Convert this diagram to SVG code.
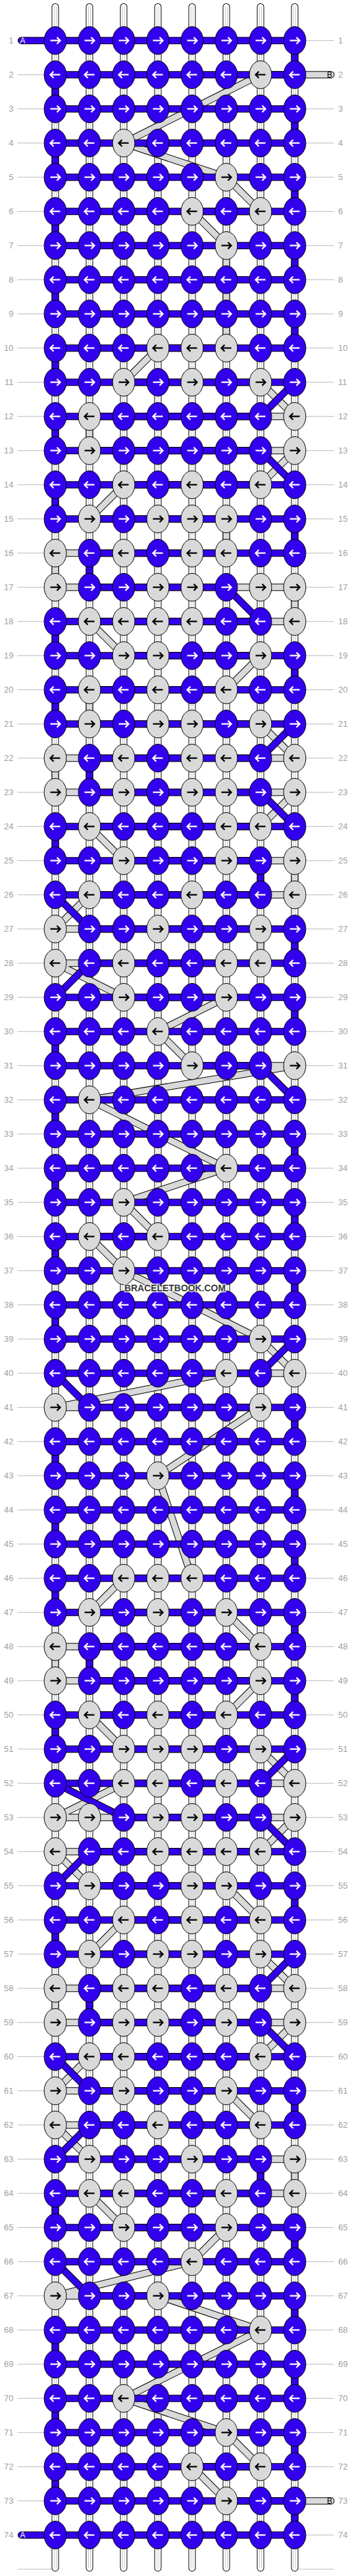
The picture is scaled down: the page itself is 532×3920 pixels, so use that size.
<svg xmlns="http://www.w3.org/2000/svg" width="532" height="3920" viewBox="0 0 532 3920">
<style>
.o{fill:none;stroke:#000;stroke-width:11;stroke-linejoin:round;stroke-linecap:round}
.w{fill:none;stroke:#fff;stroke-width:9;stroke-linecap:round}
.wc{fill:none;stroke:#c8c8c8;stroke-width:1}
.a{fill:none;stroke:#3300ee;stroke-width:9;stroke-linejoin:round;stroke-linecap:round}
.b{fill:none;stroke:#d9d9d9;stroke-width:9;stroke-linejoin:round;stroke-linecap:round}
.kb{fill:#3300ee;stroke:#000;stroke-width:1}
.kg{fill:#d9d9d9;stroke:#000;stroke-width:1}
.aw{fill:none;stroke:#fff;stroke-width:2.3}
.ak{fill:none;stroke:#000;stroke-width:2.3}
.lab{font-family:"Liberation Sans",Arial,sans-serif;font-size:13px;fill:#a0a0a0}
.ll{fill:none;stroke:#bbb;stroke-width:1}
.tl{font-family:"Liberation Sans",Arial,sans-serif;font-size:12px;text-anchor:middle}
.wm{font-family:"Liberation Sans",Arial,sans-serif;font-size:15px;font-weight:bold;fill:#3a3a3a;stroke:#fff;stroke-width:3;stroke-opacity:.8;paint-order:stroke;text-anchor:middle}
</style>
<defs>
<g id="bR"><ellipse rx="16.9" ry="21.2" class="kb"/><path class="aw" d="M-7.5 0H6.5M2.5-5L7.5 0 2.5 5"/></g>
<g id="bL"><ellipse rx="16.9" ry="21.2" class="kb"/><path class="aw" d="M7.5 0H-6.5M-2.5-5L-7.5 0-2.5 5"/></g>
<g id="gR"><ellipse rx="16.9" ry="21.2" class="kg"/><path class="ak" d="M-7.5 0H6.5M2.5-5L7.5 0 2.5 5"/></g>
<g id="gL"><ellipse rx="16.9" ry="21.2" class="kg"/><path class="ak" d="M7.5 0H-6.5M-2.5-5L-7.5 0-2.5 5"/></g>
</defs>
<rect width="532" height="3920" fill="#fff"/>
<g id="labellines" transform="translate(0 9.7)">
<path class="ll" d="M26.6 52h57m364 0h60m-481 52h57m364 0h60m-481 52h57m364 0h60m-481 52h57m364 0h60m-481 52h57m364 0h60m-481 52h57m364 0h60m-481 52h57m364 0h60m-481 52h57m364 0h60m-481 52h57m364 0h60m-481 52h57m364 0h60m-481 52h57m364 0h60m-481 52h57m364 0h60m-481 52h57m364 0h60m-481 52h57m364 0h60m-481 52h57m364 0h60m-481 52h57m364 0h60m-481 52h57m364 0h60m-481 52h57m364 0h60m-481 52h57m364 0h60m-481 52h57m364 0h60m-481 52h57m364 0h60m-481 52h57m364 0h60m-481 52h57m364 0h60m-481 52h57m364 0h60m-481 52h57m364 0h60m-481 52h57m364 0h60m-481 52h57m364 0h60m-481 52h57m364 0h60m-481 52h57m364 0h60m-481 52h57m364 0h60m-481 52h57m364 0h60m-481 52h57m364 0h60m-481 52h57m364 0h60m-481 52h57m364 0h60m-481 52h57m364 0h60m-481 52h57m364 0h60m-481 52h57m364 0h60m-481 52h57m364 0h60m-481 52h57m364 0h60m-481 52h57m364 0h60m-481 52h57m364 0h60m-481 52h57m364 0h60m-481 52h57m364 0h60m-481 52h57m364 0h60m-481 52h57m364 0h60m-481 52h57m364 0h60m-481 52h57m364 0h60m-481 52h57m364 0h60m-481 52h57m364 0h60m-481 52h57m364 0h60m-481 52h57m364 0h60m-481 52h57m364 0h60m-481 52h57m364 0h60m-481 52h57m364 0h60m-481 52h57m364 0h60m-481 52h57m364 0h60m-481 52h57m364 0h60m-481 52h57m364 0h60m-481 52h57m364 0h60m-481 52h57m364 0h60m-481 52h57m364 0h60m-481 52h57m364 0h60m-481 52h57m364 0h60m-481 52h57m364 0h60m-481 52h57m364 0h60m-481 52h57m364 0h60m-481 52h57m364 0h60m-481 52h57m364 0h60m-481 52h57m364 0h60m-481 52h57m364 0h60m-481 52h57m364 0h60m-481 52h57m364 0h60m-481 52h57m364 0h60m-481 52h57m364 0h60m-481 52h57m364 0h60"/>
</g>
<g id="labels" class="lab" transform="translate(0 14.2)">
<g id="labels-left" text-anchor="end">
<text x="20.5" y="52">1</text><text x="20.5" y="104">2</text><text x="20.5" y="156">3</text><text x="20.5" y="208">4</text><text x="20.5" y="260">5</text><text x="20.5" y="312">6</text><text x="20.5" y="364">7</text><text x="20.5" y="416">8</text><text x="20.5" y="468">9</text><text x="20.5" y="520">10</text><text x="20.5" y="572">11</text><text x="20.5" y="624">12</text><text x="20.5" y="676">13</text><text x="20.5" y="728">14</text><text x="20.5" y="780">15</text><text x="20.5" y="832">16</text><text x="20.5" y="884">17</text><text x="20.5" y="936">18</text><text x="20.5" y="988">19</text><text x="20.5" y="1040">20</text><text x="20.5" y="1092">21</text><text x="20.5" y="1144">22</text><text x="20.5" y="1196">23</text><text x="20.5" y="1248">24</text><text x="20.5" y="1300">25</text><text x="20.5" y="1352">26</text><text x="20.5" y="1404">27</text><text x="20.5" y="1456">28</text><text x="20.5" y="1508">29</text><text x="20.5" y="1560">30</text><text x="20.5" y="1612">31</text><text x="20.5" y="1664">32</text><text x="20.5" y="1716">33</text><text x="20.5" y="1768">34</text><text x="20.5" y="1820">35</text><text x="20.5" y="1872">36</text><text x="20.5" y="1924">37</text><text x="20.5" y="1976">38</text><text x="20.5" y="2028">39</text><text x="20.5" y="2080">40</text><text x="20.5" y="2132">41</text><text x="20.5" y="2184">42</text><text x="20.5" y="2236">43</text><text x="20.5" y="2288">44</text><text x="20.5" y="2340">45</text><text x="20.5" y="2392">46</text><text x="20.5" y="2444">47</text><text x="20.5" y="2496">48</text><text x="20.5" y="2548">49</text><text x="20.5" y="2600">50</text><text x="20.5" y="2652">51</text><text x="20.5" y="2704">52</text><text x="20.5" y="2756">53</text><text x="20.5" y="2808">54</text><text x="20.5" y="2860">55</text><text x="20.5" y="2912">56</text><text x="20.5" y="2964">57</text><text x="20.5" y="3016">58</text><text x="20.5" y="3068">59</text><text x="20.5" y="3120">60</text><text x="20.5" y="3172">61</text><text x="20.5" y="3224">62</text><text x="20.5" y="3276">63</text><text x="20.5" y="3328">64</text><text x="20.5" y="3380">65</text><text x="20.5" y="3432">66</text><text x="20.5" y="3484">67</text><text x="20.5" y="3536">68</text><text x="20.5" y="3588">69</text><text x="20.5" y="3640">70</text><text x="20.5" y="3692">71</text><text x="20.5" y="3744">72</text><text x="20.5" y="3796">73</text><text x="20.5" y="3848">74</text>
</g>
<g id="labels-right">
<text x="514" y="52">1</text><text x="514" y="104">2</text><text x="514" y="156">3</text><text x="514" y="208">4</text><text x="514" y="260">5</text><text x="514" y="312">6</text><text x="514" y="364">7</text><text x="514" y="416">8</text><text x="514" y="468">9</text><text x="514" y="520">10</text><text x="514" y="572">11</text><text x="514" y="624">12</text><text x="514" y="676">13</text><text x="514" y="728">14</text><text x="514" y="780">15</text><text x="514" y="832">16</text><text x="514" y="884">17</text><text x="514" y="936">18</text><text x="514" y="988">19</text><text x="514" y="1040">20</text><text x="514" y="1092">21</text><text x="514" y="1144">22</text><text x="514" y="1196">23</text><text x="514" y="1248">24</text><text x="514" y="1300">25</text><text x="514" y="1352">26</text><text x="514" y="1404">27</text><text x="514" y="1456">28</text><text x="514" y="1508">29</text><text x="514" y="1560">30</text><text x="514" y="1612">31</text><text x="514" y="1664">32</text><text x="514" y="1716">33</text><text x="514" y="1768">34</text><text x="514" y="1820">35</text><text x="514" y="1872">36</text><text x="514" y="1924">37</text><text x="514" y="1976">38</text><text x="514" y="2028">39</text><text x="514" y="2080">40</text><text x="514" y="2132">41</text><text x="514" y="2184">42</text><text x="514" y="2236">43</text><text x="514" y="2288">44</text><text x="514" y="2340">45</text><text x="514" y="2392">46</text><text x="514" y="2444">47</text><text x="514" y="2496">48</text><text x="514" y="2548">49</text><text x="514" y="2600">50</text><text x="514" y="2652">51</text><text x="514" y="2704">52</text><text x="514" y="2756">53</text><text x="514" y="2808">54</text><text x="514" y="2860">55</text><text x="514" y="2912">56</text><text x="514" y="2964">57</text><text x="514" y="3016">58</text><text x="514" y="3068">59</text><text x="514" y="3120">60</text><text x="514" y="3172">61</text><text x="514" y="3224">62</text><text x="514" y="3276">63</text><text x="514" y="3328">64</text><text x="514" y="3380">65</text><text x="514" y="3432">66</text><text x="514" y="3484">67</text><text x="514" y="3536">68</text><text x="514" y="3588">69</text><text x="514" y="3640">70</text><text x="514" y="3692">71</text><text x="514" y="3744">72</text><text x="514" y="3796">73</text><text x="514" y="3848">74</text>
</g>
</g>
<g transform="translate(32 9.7)">
<g id="strings">
<path class="o" d="M52 0.8V3898M104 0.8V3898M156 0.8V3898M208 0.8V3898M260 0.8V3898M312 0.8V3898M364 0.8V3898M416 0.8V3898"/>
<path class="w" d="M52 0.8V3898M104 0.8V3898M156 0.8V3898M208 0.8V3898M260 0.8V3898M312 0.8V3898M364 0.8V3898M416 0.8V3898"/>
<path class="wc" d="M50.5 0V3898M53.5 0V3898M102.5 0V3898M105.5 0V3898M154.5 0V3898M157.5 0V3898M206.5 0V3898M209.5 0V3898M258.5 0V3898M261.5 0V3898M310.5 0V3898M313.5 0V3898M362.5 0V3898M365.5 0V3898M414.5 0V3898M417.5 0V3898"/>
</g>
<g id="connectors">
<path id="stringB-o" class="o" d="M471 104H364L156 208L312 260L364 312H260L312 364L312 520H208L156 572H364L416 624H104V676H416L364 728H156L104 780H312V832H52V884H416V936H104L156 988H364L312 1040H104V1092H364L416 1144H52V1196H416L364 1248H104L156 1300H416V1352H104L52 1404H364V1456H52L156 1508H312L208 1560L260 1612H416L104 1664L312 1768L156 1820L208 1872H104L156 1924L364 2028L416 2080H312L52 2132H364L208 2236L260 2392H156L104 2444H312L364 2496H52V2548H364L312 2600H104L156 2652H364L416 2704H156L52 2756H416L364 2808H52L104 2860H312L364 2912H156L104 2964H364L416 3016H52V3068H416L364 3120H104L52 3172H312L364 3224H52L104 3276H416V3328H104L156 3380H312L260 3432L52 3484H208L364 3536L156 3640L312 3692L364 3744H260L312 3796H471"/>
<path id="stringB" class="b" d="M471 104H364L156 208L312 260L364 312H260L312 364L312 520H208L156 572H364L416 624H104V676H416L364 728H156L104 780H312V832H52V884H416V936H104L156 988H364L312 1040H104V1092H364L416 1144H52V1196H416L364 1248H104L156 1300H416V1352H104L52 1404H364V1456H52L156 1508H312L208 1560L260 1612H416L104 1664L312 1768L156 1820L208 1872H104L156 1924L364 2028L416 2080H312L52 2132H364L208 2236L260 2392H156L104 2444H312L364 2496H52V2548H364L312 2600H104L156 2652H364L416 2704H156L52 2756H416L364 2808H52L104 2860H312L364 2912H156L104 2964H364L416 3016H52V3068H416L364 3120H104L52 3172H312L364 3224H52L104 3276H416V3328H104L156 3380H312L260 3432L52 3484H208L364 3536L156 3640L312 3692L364 3744H260L312 3796H471"/>
<path id="stringA-o" class="o" d="M0.5 52H416V104H52V156H416V208H52V260H416V312H52V364H416V416H52V468H416V520H52V572H416L364 624H52V676H364L416 728H52V780H416V832H104V884H312L364 936H52V988H416V1040H52V1092H416L364 1144H104V1196H364L416 1248H52V1300H364V1352H52L104 1404H416V1456H104L52 1508H416V1560H52V1612H364L416 1664H52V1716H416V1768H52V1820H416V1872H52V1924H416V1976H52V2028H416L364 2080H52L104 2132H416V2184H52V2236H416V2288H52V2340H416V2392H52V2444H416V2496H104V2548H416V2600H52V2652H416L364 2704H52L156 2756H364L416 2808H104L52 2860H416V2912H52V2964H416L364 3016H104V3068H364L416 3120H52L104 3172H416V3224H104L52 3276H364V3328H52V3380H416V3432H52L104 3484H416V3536H52V3588H416V3640H52V3692H416V3744H52V3796H416V3848H0.5"/>
<path id="stringA" class="a" d="M0.5 52H416V104H52V156H416V208H52V260H416V312H52V364H416V416H52V468H416V520H52V572H416L364 624H52V676H364L416 728H52V780H416V832H104V884H312L364 936H52V988H416V1040H52V1092H416L364 1144H104V1196H364L416 1248H52V1300H364V1352H52L104 1404H416V1456H104L52 1508H416V1560H52V1612H364L416 1664H52V1716H416V1768H52V1820H416V1872H52V1924H416V1976H52V2028H416L364 2080H52L104 2132H416V2184H52V2236H416V2288H52V2340H416V2392H52V2444H416V2496H104V2548H416V2600H52V2652H416L364 2704H52L156 2756H364L416 2808H104L52 2860H416V2912H52V2964H416L364 3016H104V3068H364L416 3120H52L104 3172H416V3224H104L52 3276H364V3328H52V3380H416V3432H52L104 3484H416V3536H52V3588H416V3640H52V3692H416V3744H52V3796H416V3848H0.5"/>
</g>
<g id="tail-labels" class="tl">
<text x="2.5" y="56.3" fill="#fff">A</text>
<text x="2.5" y="3852.3" fill="#fff">A</text>
<text x="469" y="108.3" fill="#000">B</text>
<text x="469" y="3800.3" fill="#000">B</text>
</g>
<g id="knots">
<g id="row1" transform="translate(0 52)"><g id="k1-1"><use href="#bR" x="52"/></g><g id="k1-2"><use href="#bR" x="104"/></g><g id="k1-3"><use href="#bR" x="156"/></g><g id="k1-4"><use href="#bR" x="208"/></g><g id="k1-5"><use href="#bR" x="260"/></g><g id="k1-6"><use href="#bR" x="312"/></g><g id="k1-7"><use href="#bR" x="364"/></g><g id="k1-8"><use href="#bR" x="416"/></g></g>
<g id="row2" transform="translate(0 104)"><g id="k2-1"><use href="#bL" x="52"/></g><g id="k2-2"><use href="#bL" x="104"/></g><g id="k2-3"><use href="#bL" x="156"/></g><g id="k2-4"><use href="#bL" x="208"/></g><g id="k2-5"><use href="#bL" x="260"/></g><g id="k2-6"><use href="#bL" x="312"/></g><g id="k2-7"><use href="#gL" x="364"/></g><g id="k2-8"><use href="#bL" x="416"/></g></g>
<g id="row3" transform="translate(0 156)"><g id="k3-1"><use href="#bR" x="52"/></g><g id="k3-2"><use href="#bR" x="104"/></g><g id="k3-3"><use href="#bR" x="156"/></g><g id="k3-4"><use href="#bR" x="208"/></g><g id="k3-5"><use href="#bR" x="260"/></g><g id="k3-6"><use href="#bR" x="312"/></g><g id="k3-7"><use href="#bR" x="364"/></g><g id="k3-8"><use href="#bR" x="416"/></g></g>
<g id="row4" transform="translate(0 208)"><g id="k4-1"><use href="#bL" x="52"/></g><g id="k4-2"><use href="#bL" x="104"/></g><g id="k4-3"><use href="#gL" x="156"/></g><g id="k4-4"><use href="#bL" x="208"/></g><g id="k4-5"><use href="#bL" x="260"/></g><g id="k4-6"><use href="#bL" x="312"/></g><g id="k4-7"><use href="#bL" x="364"/></g><g id="k4-8"><use href="#bL" x="416"/></g></g>
<g id="row5" transform="translate(0 260)"><g id="k5-1"><use href="#bR" x="52"/></g><g id="k5-2"><use href="#bR" x="104"/></g><g id="k5-3"><use href="#bR" x="156"/></g><g id="k5-4"><use href="#bR" x="208"/></g><g id="k5-5"><use href="#bR" x="260"/></g><g id="k5-6"><use href="#gR" x="312"/></g><g id="k5-7"><use href="#bR" x="364"/></g><g id="k5-8"><use href="#bR" x="416"/></g></g>
<g id="row6" transform="translate(0 312)"><g id="k6-1"><use href="#bL" x="52"/></g><g id="k6-2"><use href="#bL" x="104"/></g><g id="k6-3"><use href="#bL" x="156"/></g><g id="k6-4"><use href="#bL" x="208"/></g><g id="k6-5"><use href="#gL" x="260"/></g><g id="k6-6"><use href="#bL" x="312"/></g><g id="k6-7"><use href="#gL" x="364"/></g><g id="k6-8"><use href="#bL" x="416"/></g></g>
<g id="row7" transform="translate(0 364)"><g id="k7-1"><use href="#bR" x="52"/></g><g id="k7-2"><use href="#bR" x="104"/></g><g id="k7-3"><use href="#bR" x="156"/></g><g id="k7-4"><use href="#bR" x="208"/></g><g id="k7-5"><use href="#bR" x="260"/></g><g id="k7-6"><use href="#gR" x="312"/></g><g id="k7-7"><use href="#bR" x="364"/></g><g id="k7-8"><use href="#bR" x="416"/></g></g>
<g id="row8" transform="translate(0 416)"><g id="k8-1"><use href="#bL" x="52"/></g><g id="k8-2"><use href="#bL" x="104"/></g><g id="k8-3"><use href="#bL" x="156"/></g><g id="k8-4"><use href="#bL" x="208"/></g><g id="k8-5"><use href="#bL" x="260"/></g><g id="k8-6"><use href="#bL" x="312"/></g><g id="k8-7"><use href="#bL" x="364"/></g><g id="k8-8"><use href="#bL" x="416"/></g></g>
<g id="row9" transform="translate(0 468)"><g id="k9-1"><use href="#bR" x="52"/></g><g id="k9-2"><use href="#bR" x="104"/></g><g id="k9-3"><use href="#bR" x="156"/></g><g id="k9-4"><use href="#bR" x="208"/></g><g id="k9-5"><use href="#bR" x="260"/></g><g id="k9-6"><use href="#bR" x="312"/></g><g id="k9-7"><use href="#bR" x="364"/></g><g id="k9-8"><use href="#bR" x="416"/></g></g>
<g id="row10" transform="translate(0 520)"><g id="k10-1"><use href="#bL" x="52"/></g><g id="k10-2"><use href="#bL" x="104"/></g><g id="k10-3"><use href="#bL" x="156"/></g><g id="k10-4"><use href="#gL" x="208"/></g><g id="k10-5"><use href="#gL" x="260"/></g><g id="k10-6"><use href="#gL" x="312"/></g><g id="k10-7"><use href="#bL" x="364"/></g><g id="k10-8"><use href="#bL" x="416"/></g></g>
<g id="row11" transform="translate(0 572)"><g id="k11-1"><use href="#bR" x="52"/></g><g id="k11-2"><use href="#bR" x="104"/></g><g id="k11-3"><use href="#gR" x="156"/></g><g id="k11-4"><use href="#bR" x="208"/></g><g id="k11-5"><use href="#gR" x="260"/></g><g id="k11-6"><use href="#bR" x="312"/></g><g id="k11-7"><use href="#gR" x="364"/></g><g id="k11-8"><use href="#bR" x="416"/></g></g>
<g id="row12" transform="translate(0 624)"><g id="k12-1"><use href="#bL" x="52"/></g><g id="k12-2"><use href="#gL" x="104"/></g><g id="k12-3"><use href="#bL" x="156"/></g><g id="k12-4"><use href="#bL" x="208"/></g><g id="k12-5"><use href="#bL" x="260"/></g><g id="k12-6"><use href="#bL" x="312"/></g><g id="k12-7"><use href="#bL" x="364"/></g><g id="k12-8"><use href="#gL" x="416"/></g></g>
<g id="row13" transform="translate(0 676)"><g id="k13-1"><use href="#bR" x="52"/></g><g id="k13-2"><use href="#gR" x="104"/></g><g id="k13-3"><use href="#bR" x="156"/></g><g id="k13-4"><use href="#bR" x="208"/></g><g id="k13-5"><use href="#bR" x="260"/></g><g id="k13-6"><use href="#bR" x="312"/></g><g id="k13-7"><use href="#bR" x="364"/></g><g id="k13-8"><use href="#gR" x="416"/></g></g>
<g id="row14" transform="translate(0 728)"><g id="k14-1"><use href="#bL" x="52"/></g><g id="k14-2"><use href="#bL" x="104"/></g><g id="k14-3"><use href="#gL" x="156"/></g><g id="k14-4"><use href="#bL" x="208"/></g><g id="k14-5"><use href="#gL" x="260"/></g><g id="k14-6"><use href="#bL" x="312"/></g><g id="k14-7"><use href="#gL" x="364"/></g><g id="k14-8"><use href="#bL" x="416"/></g></g>
<g id="row15" transform="translate(0 780)"><g id="k15-1"><use href="#bR" x="52"/></g><g id="k15-2"><use href="#gR" x="104"/></g><g id="k15-3"><use href="#bR" x="156"/></g><g id="k15-4"><use href="#gR" x="208"/></g><g id="k15-5"><use href="#gR" x="260"/></g><g id="k15-6"><use href="#gR" x="312"/></g><g id="k15-7"><use href="#bR" x="364"/></g><g id="k15-8"><use href="#bR" x="416"/></g></g>
<g id="row16" transform="translate(0 832)"><g id="k16-1"><use href="#gL" x="52"/></g><g id="k16-2"><use href="#bL" x="104"/></g><g id="k16-3"><use href="#gL" x="156"/></g><g id="k16-4"><use href="#bL" x="208"/></g><g id="k16-5"><use href="#gL" x="260"/></g><g id="k16-6"><use href="#gL" x="312"/></g><g id="k16-7"><use href="#bL" x="364"/></g><g id="k16-8"><use href="#bL" x="416"/></g></g>
<g id="row17" transform="translate(0 884)"><g id="k17-1"><use href="#gR" x="52"/></g><g id="k17-2"><use href="#bR" x="104"/></g><g id="k17-3"><use href="#bR" x="156"/></g><g id="k17-4"><use href="#gR" x="208"/></g><g id="k17-5"><use href="#gR" x="260"/></g><g id="k17-6"><use href="#bR" x="312"/></g><g id="k17-7"><use href="#gR" x="364"/></g><g id="k17-8"><use href="#gR" x="416"/></g></g>
<g id="row18" transform="translate(0 936)"><g id="k18-1"><use href="#bL" x="52"/></g><g id="k18-2"><use href="#gL" x="104"/></g><g id="k18-3"><use href="#gL" x="156"/></g><g id="k18-4"><use href="#gL" x="208"/></g><g id="k18-5"><use href="#gL" x="260"/></g><g id="k18-6"><use href="#bL" x="312"/></g><g id="k18-7"><use href="#bL" x="364"/></g><g id="k18-8"><use href="#gL" x="416"/></g></g>
<g id="row19" transform="translate(0 988)"><g id="k19-1"><use href="#bR" x="52"/></g><g id="k19-2"><use href="#bR" x="104"/></g><g id="k19-3"><use href="#gR" x="156"/></g><g id="k19-4"><use href="#gR" x="208"/></g><g id="k19-5"><use href="#bR" x="260"/></g><g id="k19-6"><use href="#bR" x="312"/></g><g id="k19-7"><use href="#gR" x="364"/></g><g id="k19-8"><use href="#bR" x="416"/></g></g>
<g id="row20" transform="translate(0 1040)"><g id="k20-1"><use href="#bL" x="52"/></g><g id="k20-2"><use href="#gL" x="104"/></g><g id="k20-3"><use href="#bL" x="156"/></g><g id="k20-4"><use href="#gL" x="208"/></g><g id="k20-5"><use href="#bL" x="260"/></g><g id="k20-6"><use href="#gL" x="312"/></g><g id="k20-7"><use href="#bL" x="364"/></g><g id="k20-8"><use href="#bL" x="416"/></g></g>
<g id="row21" transform="translate(0 1092)"><g id="k21-1"><use href="#bR" x="52"/></g><g id="k21-2"><use href="#gR" x="104"/></g><g id="k21-3"><use href="#bR" x="156"/></g><g id="k21-4"><use href="#gR" x="208"/></g><g id="k21-5"><use href="#gR" x="260"/></g><g id="k21-6"><use href="#bR" x="312"/></g><g id="k21-7"><use href="#gR" x="364"/></g><g id="k21-8"><use href="#bR" x="416"/></g></g>
<g id="row22" transform="translate(0 1144)"><g id="k22-1"><use href="#gL" x="52"/></g><g id="k22-2"><use href="#bL" x="104"/></g><g id="k22-3"><use href="#gL" x="156"/></g><g id="k22-4"><use href="#bL" x="208"/></g><g id="k22-5"><use href="#gL" x="260"/></g><g id="k22-6"><use href="#gL" x="312"/></g><g id="k22-7"><use href="#bL" x="364"/></g><g id="k22-8"><use href="#gL" x="416"/></g></g>
<g id="row23" transform="translate(0 1196)"><g id="k23-1"><use href="#gR" x="52"/></g><g id="k23-2"><use href="#bR" x="104"/></g><g id="k23-3"><use href="#gR" x="156"/></g><g id="k23-4"><use href="#bR" x="208"/></g><g id="k23-5"><use href="#gR" x="260"/></g><g id="k23-6"><use href="#gR" x="312"/></g><g id="k23-7"><use href="#bR" x="364"/></g><g id="k23-8"><use href="#gR" x="416"/></g></g>
<g id="row24" transform="translate(0 1248)"><g id="k24-1"><use href="#bL" x="52"/></g><g id="k24-2"><use href="#gL" x="104"/></g><g id="k24-3"><use href="#bL" x="156"/></g><g id="k24-4"><use href="#bL" x="208"/></g><g id="k24-5"><use href="#bL" x="260"/></g><g id="k24-6"><use href="#gL" x="312"/></g><g id="k24-7"><use href="#gL" x="364"/></g><g id="k24-8"><use href="#bL" x="416"/></g></g>
<g id="row25" transform="translate(0 1300)"><g id="k25-1"><use href="#bR" x="52"/></g><g id="k25-2"><use href="#bR" x="104"/></g><g id="k25-3"><use href="#gR" x="156"/></g><g id="k25-4"><use href="#bR" x="208"/></g><g id="k25-5"><use href="#bR" x="260"/></g><g id="k25-6"><use href="#gR" x="312"/></g><g id="k25-7"><use href="#bR" x="364"/></g><g id="k25-8"><use href="#gR" x="416"/></g></g>
<g id="row26" transform="translate(0 1352)"><g id="k26-1"><use href="#bL" x="52"/></g><g id="k26-2"><use href="#gL" x="104"/></g><g id="k26-3"><use href="#bL" x="156"/></g><g id="k26-4"><use href="#bL" x="208"/></g><g id="k26-5"><use href="#gL" x="260"/></g><g id="k26-6"><use href="#bL" x="312"/></g><g id="k26-7"><use href="#bL" x="364"/></g><g id="k26-8"><use href="#gL" x="416"/></g></g>
<g id="row27" transform="translate(0 1404)"><g id="k27-1"><use href="#gR" x="52"/></g><g id="k27-2"><use href="#bR" x="104"/></g><g id="k27-3"><use href="#bR" x="156"/></g><g id="k27-4"><use href="#gR" x="208"/></g><g id="k27-5"><use href="#bR" x="260"/></g><g id="k27-6"><use href="#bR" x="312"/></g><g id="k27-7"><use href="#gR" x="364"/></g><g id="k27-8"><use href="#bR" x="416"/></g></g>
<g id="row28" transform="translate(0 1456)"><g id="k28-1"><use href="#gL" x="52"/></g><g id="k28-2"><use href="#bL" x="104"/></g><g id="k28-3"><use href="#gL" x="156"/></g><g id="k28-4"><use href="#bL" x="208"/></g><g id="k28-5"><use href="#bL" x="260"/></g><g id="k28-6"><use href="#gL" x="312"/></g><g id="k28-7"><use href="#gL" x="364"/></g><g id="k28-8"><use href="#bL" x="416"/></g></g>
<g id="row29" transform="translate(0 1508)"><g id="k29-1"><use href="#bR" x="52"/></g><g id="k29-2"><use href="#bR" x="104"/></g><g id="k29-3"><use href="#gR" x="156"/></g><g id="k29-4"><use href="#bR" x="208"/></g><g id="k29-5"><use href="#bR" x="260"/></g><g id="k29-6"><use href="#gR" x="312"/></g><g id="k29-7"><use href="#bR" x="364"/></g><g id="k29-8"><use href="#bR" x="416"/></g></g>
<g id="row30" transform="translate(0 1560)"><g id="k30-1"><use href="#bL" x="52"/></g><g id="k30-2"><use href="#bL" x="104"/></g><g id="k30-3"><use href="#bL" x="156"/></g><g id="k30-4"><use href="#gL" x="208"/></g><g id="k30-5"><use href="#bL" x="260"/></g><g id="k30-6"><use href="#bL" x="312"/></g><g id="k30-7"><use href="#bL" x="364"/></g><g id="k30-8"><use href="#bL" x="416"/></g></g>
<g id="row31" transform="translate(0 1612)"><g id="k31-1"><use href="#bR" x="52"/></g><g id="k31-2"><use href="#bR" x="104"/></g><g id="k31-3"><use href="#bR" x="156"/></g><g id="k31-4"><use href="#bR" x="208"/></g><g id="k31-5"><use href="#gR" x="260"/></g><g id="k31-6"><use href="#bR" x="312"/></g><g id="k31-7"><use href="#bR" x="364"/></g><g id="k31-8"><use href="#gR" x="416"/></g></g>
<g id="row32" transform="translate(0 1664)"><g id="k32-1"><use href="#bL" x="52"/></g><g id="k32-2"><use href="#gL" x="104"/></g><g id="k32-3"><use href="#bL" x="156"/></g><g id="k32-4"><use href="#bL" x="208"/></g><g id="k32-5"><use href="#bL" x="260"/></g><g id="k32-6"><use href="#bL" x="312"/></g><g id="k32-7"><use href="#bL" x="364"/></g><g id="k32-8"><use href="#bL" x="416"/></g></g>
<g id="row33" transform="translate(0 1716)"><g id="k33-1"><use href="#bR" x="52"/></g><g id="k33-2"><use href="#bR" x="104"/></g><g id="k33-3"><use href="#bR" x="156"/></g><g id="k33-4"><use href="#bR" x="208"/></g><g id="k33-5"><use href="#bR" x="260"/></g><g id="k33-6"><use href="#bR" x="312"/></g><g id="k33-7"><use href="#bR" x="364"/></g><g id="k33-8"><use href="#bR" x="416"/></g></g>
<g id="row34" transform="translate(0 1768)"><g id="k34-1"><use href="#bL" x="52"/></g><g id="k34-2"><use href="#bL" x="104"/></g><g id="k34-3"><use href="#bL" x="156"/></g><g id="k34-4"><use href="#bL" x="208"/></g><g id="k34-5"><use href="#bL" x="260"/></g><g id="k34-6"><use href="#gL" x="312"/></g><g id="k34-7"><use href="#bL" x="364"/></g><g id="k34-8"><use href="#bL" x="416"/></g></g>
<g id="row35" transform="translate(0 1820)"><g id="k35-1"><use href="#bR" x="52"/></g><g id="k35-2"><use href="#bR" x="104"/></g><g id="k35-3"><use href="#gR" x="156"/></g><g id="k35-4"><use href="#bR" x="208"/></g><g id="k35-5"><use href="#bR" x="260"/></g><g id="k35-6"><use href="#bR" x="312"/></g><g id="k35-7"><use href="#bR" x="364"/></g><g id="k35-8"><use href="#bR" x="416"/></g></g>
<g id="row36" transform="translate(0 1872)"><g id="k36-1"><use href="#bL" x="52"/></g><g id="k36-2"><use href="#gL" x="104"/></g><g id="k36-3"><use href="#bL" x="156"/></g><g id="k36-4"><use href="#gL" x="208"/></g><g id="k36-5"><use href="#bL" x="260"/></g><g id="k36-6"><use href="#bL" x="312"/></g><g id="k36-7"><use href="#bL" x="364"/></g><g id="k36-8"><use href="#bL" x="416"/></g></g>
<g id="row37" transform="translate(0 1924)"><g id="k37-1"><use href="#bR" x="52"/></g><g id="k37-2"><use href="#bR" x="104"/></g><g id="k37-3"><use href="#gR" x="156"/></g><g id="k37-4"><use href="#bR" x="208"/></g><g id="k37-5"><use href="#bR" x="260"/></g><g id="k37-6"><use href="#bR" x="312"/></g><g id="k37-7"><use href="#bR" x="364"/></g><g id="k37-8"><use href="#bR" x="416"/></g></g>
<g id="row38" transform="translate(0 1976)"><g id="k38-1"><use href="#bL" x="52"/></g><g id="k38-2"><use href="#bL" x="104"/></g><g id="k38-3"><use href="#bL" x="156"/></g><g id="k38-4"><use href="#bL" x="208"/></g><g id="k38-5"><use href="#bL" x="260"/></g><g id="k38-6"><use href="#bL" x="312"/></g><g id="k38-7"><use href="#bL" x="364"/></g><g id="k38-8"><use href="#bL" x="416"/></g></g>
<g id="row39" transform="translate(0 2028)"><g id="k39-1"><use href="#bR" x="52"/></g><g id="k39-2"><use href="#bR" x="104"/></g><g id="k39-3"><use href="#bR" x="156"/></g><g id="k39-4"><use href="#bR" x="208"/></g><g id="k39-5"><use href="#bR" x="260"/></g><g id="k39-6"><use href="#bR" x="312"/></g><g id="k39-7"><use href="#gR" x="364"/></g><g id="k39-8"><use href="#bR" x="416"/></g></g>
<g id="row40" transform="translate(0 2080)"><g id="k40-1"><use href="#bL" x="52"/></g><g id="k40-2"><use href="#bL" x="104"/></g><g id="k40-3"><use href="#bL" x="156"/></g><g id="k40-4"><use href="#bL" x="208"/></g><g id="k40-5"><use href="#bL" x="260"/></g><g id="k40-6"><use href="#gL" x="312"/></g><g id="k40-7"><use href="#bL" x="364"/></g><g id="k40-8"><use href="#gL" x="416"/></g></g>
<g id="row41" transform="translate(0 2132)"><g id="k41-1"><use href="#gR" x="52"/></g><g id="k41-2"><use href="#bR" x="104"/></g><g id="k41-3"><use href="#bR" x="156"/></g><g id="k41-4"><use href="#bR" x="208"/></g><g id="k41-5"><use href="#bR" x="260"/></g><g id="k41-6"><use href="#bR" x="312"/></g><g id="k41-7"><use href="#gR" x="364"/></g><g id="k41-8"><use href="#bR" x="416"/></g></g>
<g id="row42" transform="translate(0 2184)"><g id="k42-1"><use href="#bL" x="52"/></g><g id="k42-2"><use href="#bL" x="104"/></g><g id="k42-3"><use href="#bL" x="156"/></g><g id="k42-4"><use href="#bL" x="208"/></g><g id="k42-5"><use href="#bL" x="260"/></g><g id="k42-6"><use href="#bL" x="312"/></g><g id="k42-7"><use href="#bL" x="364"/></g><g id="k42-8"><use href="#bL" x="416"/></g></g>
<g id="row43" transform="translate(0 2236)"><g id="k43-1"><use href="#bR" x="52"/></g><g id="k43-2"><use href="#bR" x="104"/></g><g id="k43-3"><use href="#bR" x="156"/></g><g id="k43-4"><use href="#gR" x="208"/></g><g id="k43-5"><use href="#bR" x="260"/></g><g id="k43-6"><use href="#bR" x="312"/></g><g id="k43-7"><use href="#bR" x="364"/></g><g id="k43-8"><use href="#bR" x="416"/></g></g>
<g id="row44" transform="translate(0 2288)"><g id="k44-1"><use href="#bL" x="52"/></g><g id="k44-2"><use href="#bL" x="104"/></g><g id="k44-3"><use href="#bL" x="156"/></g><g id="k44-4"><use href="#bL" x="208"/></g><g id="k44-5"><use href="#bL" x="260"/></g><g id="k44-6"><use href="#bL" x="312"/></g><g id="k44-7"><use href="#bL" x="364"/></g><g id="k44-8"><use href="#bL" x="416"/></g></g>
<g id="row45" transform="translate(0 2340)"><g id="k45-1"><use href="#bR" x="52"/></g><g id="k45-2"><use href="#bR" x="104"/></g><g id="k45-3"><use href="#bR" x="156"/></g><g id="k45-4"><use href="#bR" x="208"/></g><g id="k45-5"><use href="#bR" x="260"/></g><g id="k45-6"><use href="#bR" x="312"/></g><g id="k45-7"><use href="#bR" x="364"/></g><g id="k45-8"><use href="#bR" x="416"/></g></g>
<g id="row46" transform="translate(0 2392)"><g id="k46-1"><use href="#bL" x="52"/></g><g id="k46-2"><use href="#bL" x="104"/></g><g id="k46-3"><use href="#gL" x="156"/></g><g id="k46-4"><use href="#gL" x="208"/></g><g id="k46-5"><use href="#gL" x="260"/></g><g id="k46-6"><use href="#bL" x="312"/></g><g id="k46-7"><use href="#bL" x="364"/></g><g id="k46-8"><use href="#bL" x="416"/></g></g>
<g id="row47" transform="translate(0 2444)"><g id="k47-1"><use href="#bR" x="52"/></g><g id="k47-2"><use href="#gR" x="104"/></g><g id="k47-3"><use href="#bR" x="156"/></g><g id="k47-4"><use href="#gR" x="208"/></g><g id="k47-5"><use href="#bR" x="260"/></g><g id="k47-6"><use href="#gR" x="312"/></g><g id="k47-7"><use href="#bR" x="364"/></g><g id="k47-8"><use href="#bR" x="416"/></g></g>
<g id="row48" transform="translate(0 2496)"><g id="k48-1"><use href="#gL" x="52"/></g><g id="k48-2"><use href="#bL" x="104"/></g><g id="k48-3"><use href="#bL" x="156"/></g><g id="k48-4"><use href="#bL" x="208"/></g><g id="k48-5"><use href="#bL" x="260"/></g><g id="k48-6"><use href="#bL" x="312"/></g><g id="k48-7"><use href="#gL" x="364"/></g><g id="k48-8"><use href="#bL" x="416"/></g></g>
<g id="row49" transform="translate(0 2548)"><g id="k49-1"><use href="#gR" x="52"/></g><g id="k49-2"><use href="#bR" x="104"/></g><g id="k49-3"><use href="#bR" x="156"/></g><g id="k49-4"><use href="#bR" x="208"/></g><g id="k49-5"><use href="#bR" x="260"/></g><g id="k49-6"><use href="#bR" x="312"/></g><g id="k49-7"><use href="#gR" x="364"/></g><g id="k49-8"><use href="#bR" x="416"/></g></g>
<g id="row50" transform="translate(0 2600)"><g id="k50-1"><use href="#bL" x="52"/></g><g id="k50-2"><use href="#gL" x="104"/></g><g id="k50-3"><use href="#bL" x="156"/></g><g id="k50-4"><use href="#gL" x="208"/></g><g id="k50-5"><use href="#bL" x="260"/></g><g id="k50-6"><use href="#gL" x="312"/></g><g id="k50-7"><use href="#bL" x="364"/></g><g id="k50-8"><use href="#bL" x="416"/></g></g>
<g id="row51" transform="translate(0 2652)"><g id="k51-1"><use href="#bR" x="52"/></g><g id="k51-2"><use href="#bR" x="104"/></g><g id="k51-3"><use href="#gR" x="156"/></g><g id="k51-4"><use href="#gR" x="208"/></g><g id="k51-5"><use href="#gR" x="260"/></g><g id="k51-6"><use href="#bR" x="312"/></g><g id="k51-7"><use href="#gR" x="364"/></g><g id="k51-8"><use href="#bR" x="416"/></g></g>
<g id="row52" transform="translate(0 2704)"><g id="k52-1"><use href="#bL" x="52"/></g><g id="k52-2"><use href="#bL" x="104"/></g><g id="k52-3"><use href="#gL" x="156"/></g><g id="k52-4"><use href="#gL" x="208"/></g><g id="k52-5"><use href="#bL" x="260"/></g><g id="k52-6"><use href="#gL" x="312"/></g><g id="k52-7"><use href="#bL" x="364"/></g><g id="k52-8"><use href="#gL" x="416"/></g></g>
<g id="row53" transform="translate(0 2756)"><g id="k53-1"><use href="#gR" x="52"/></g><g id="k53-2"><use href="#gR" x="104"/></g><g id="k53-3"><use href="#bR" x="156"/></g><g id="k53-4"><use href="#gR" x="208"/></g><g id="k53-5"><use href="#gR" x="260"/></g><g id="k53-6"><use href="#bR" x="312"/></g><g id="k53-7"><use href="#bR" x="364"/></g><g id="k53-8"><use href="#gR" x="416"/></g></g>
<g id="row54" transform="translate(0 2808)"><g id="k54-1"><use href="#gL" x="52"/></g><g id="k54-2"><use href="#bL" x="104"/></g><g id="k54-3"><use href="#bL" x="156"/></g><g id="k54-4"><use href="#gL" x="208"/></g><g id="k54-5"><use href="#gL" x="260"/></g><g id="k54-6"><use href="#gL" x="312"/></g><g id="k54-7"><use href="#gL" x="364"/></g><g id="k54-8"><use href="#bL" x="416"/></g></g>
<g id="row55" transform="translate(0 2860)"><g id="k55-1"><use href="#bR" x="52"/></g><g id="k55-2"><use href="#gR" x="104"/></g><g id="k55-3"><use href="#bR" x="156"/></g><g id="k55-4"><use href="#bR" x="208"/></g><g id="k55-5"><use href="#gR" x="260"/></g><g id="k55-6"><use href="#gR" x="312"/></g><g id="k55-7"><use href="#bR" x="364"/></g><g id="k55-8"><use href="#bR" x="416"/></g></g>
<g id="row56" transform="translate(0 2912)"><g id="k56-1"><use href="#bL" x="52"/></g><g id="k56-2"><use href="#bL" x="104"/></g><g id="k56-3"><use href="#gL" x="156"/></g><g id="k56-4"><use href="#bL" x="208"/></g><g id="k56-5"><use href="#gL" x="260"/></g><g id="k56-6"><use href="#bL" x="312"/></g><g id="k56-7"><use href="#gL" x="364"/></g><g id="k56-8"><use href="#bL" x="416"/></g></g>
<g id="row57" transform="translate(0 2964)"><g id="k57-1"><use href="#bR" x="52"/></g><g id="k57-2"><use href="#gR" x="104"/></g><g id="k57-3"><use href="#bR" x="156"/></g><g id="k57-4"><use href="#gR" x="208"/></g><g id="k57-5"><use href="#gR" x="260"/></g><g id="k57-6"><use href="#bR" x="312"/></g><g id="k57-7"><use href="#gR" x="364"/></g><g id="k57-8"><use href="#bR" x="416"/></g></g>
<g id="row58" transform="translate(0 3016)"><g id="k58-1"><use href="#gL" x="52"/></g><g id="k58-2"><use href="#bL" x="104"/></g><g id="k58-3"><use href="#gL" x="156"/></g><g id="k58-4"><use href="#gL" x="208"/></g><g id="k58-5"><use href="#bL" x="260"/></g><g id="k58-6"><use href="#gL" x="312"/></g><g id="k58-7"><use href="#bL" x="364"/></g><g id="k58-8"><use href="#gL" x="416"/></g></g>
<g id="row59" transform="translate(0 3068)"><g id="k59-1"><use href="#gR" x="52"/></g><g id="k59-2"><use href="#bR" x="104"/></g><g id="k59-3"><use href="#gR" x="156"/></g><g id="k59-4"><use href="#gR" x="208"/></g><g id="k59-5"><use href="#bR" x="260"/></g><g id="k59-6"><use href="#gR" x="312"/></g><g id="k59-7"><use href="#bR" x="364"/></g><g id="k59-8"><use href="#gR" x="416"/></g></g>
<g id="row60" transform="translate(0 3120)"><g id="k60-1"><use href="#bL" x="52"/></g><g id="k60-2"><use href="#gL" x="104"/></g><g id="k60-3"><use href="#gL" x="156"/></g><g id="k60-4"><use href="#bL" x="208"/></g><g id="k60-5"><use href="#bL" x="260"/></g><g id="k60-6"><use href="#bL" x="312"/></g><g id="k60-7"><use href="#gL" x="364"/></g><g id="k60-8"><use href="#bL" x="416"/></g></g>
<g id="row61" transform="translate(0 3172)"><g id="k61-1"><use href="#gR" x="52"/></g><g id="k61-2"><use href="#bR" x="104"/></g><g id="k61-3"><use href="#gR" x="156"/></g><g id="k61-4"><use href="#bR" x="208"/></g><g id="k61-5"><use href="#bR" x="260"/></g><g id="k61-6"><use href="#gR" x="312"/></g><g id="k61-7"><use href="#bR" x="364"/></g><g id="k61-8"><use href="#bR" x="416"/></g></g>
<g id="row62" transform="translate(0 3224)"><g id="k62-1"><use href="#gL" x="52"/></g><g id="k62-2"><use href="#bL" x="104"/></g><g id="k62-3"><use href="#bL" x="156"/></g><g id="k62-4"><use href="#gL" x="208"/></g><g id="k62-5"><use href="#bL" x="260"/></g><g id="k62-6"><use href="#bL" x="312"/></g><g id="k62-7"><use href="#gL" x="364"/></g><g id="k62-8"><use href="#bL" x="416"/></g></g>
<g id="row63" transform="translate(0 3276)"><g id="k63-1"><use href="#bR" x="52"/></g><g id="k63-2"><use href="#gR" x="104"/></g><g id="k63-3"><use href="#bR" x="156"/></g><g id="k63-4"><use href="#bR" x="208"/></g><g id="k63-5"><use href="#gR" x="260"/></g><g id="k63-6"><use href="#bR" x="312"/></g><g id="k63-7"><use href="#bR" x="364"/></g><g id="k63-8"><use href="#gR" x="416"/></g></g>
<g id="row64" transform="translate(0 3328)"><g id="k64-1"><use href="#bL" x="52"/></g><g id="k64-2"><use href="#gL" x="104"/></g><g id="k64-3"><use href="#gL" x="156"/></g><g id="k64-4"><use href="#bL" x="208"/></g><g id="k64-5"><use href="#bL" x="260"/></g><g id="k64-6"><use href="#gL" x="312"/></g><g id="k64-7"><use href="#bL" x="364"/></g><g id="k64-8"><use href="#gL" x="416"/></g></g>
<g id="row65" transform="translate(0 3380)"><g id="k65-1"><use href="#bR" x="52"/></g><g id="k65-2"><use href="#bR" x="104"/></g><g id="k65-3"><use href="#gR" x="156"/></g><g id="k65-4"><use href="#bR" x="208"/></g><g id="k65-5"><use href="#bR" x="260"/></g><g id="k65-6"><use href="#gR" x="312"/></g><g id="k65-7"><use href="#bR" x="364"/></g><g id="k65-8"><use href="#bR" x="416"/></g></g>
<g id="row66" transform="translate(0 3432)"><g id="k66-1"><use href="#bL" x="52"/></g><g id="k66-2"><use href="#bL" x="104"/></g><g id="k66-3"><use href="#bL" x="156"/></g><g id="k66-4"><use href="#bL" x="208"/></g><g id="k66-5"><use href="#gL" x="260"/></g><g id="k66-6"><use href="#bL" x="312"/></g><g id="k66-7"><use href="#bL" x="364"/></g><g id="k66-8"><use href="#bL" x="416"/></g></g>
<g id="row67" transform="translate(0 3484)"><g id="k67-1"><use href="#gR" x="52"/></g><g id="k67-2"><use href="#bR" x="104"/></g><g id="k67-3"><use href="#bR" x="156"/></g><g id="k67-4"><use href="#gR" x="208"/></g><g id="k67-5"><use href="#bR" x="260"/></g><g id="k67-6"><use href="#bR" x="312"/></g><g id="k67-7"><use href="#bR" x="364"/></g><g id="k67-8"><use href="#bR" x="416"/></g></g>
<g id="row68" transform="translate(0 3536)"><g id="k68-1"><use href="#bL" x="52"/></g><g id="k68-2"><use href="#bL" x="104"/></g><g id="k68-3"><use href="#bL" x="156"/></g><g id="k68-4"><use href="#bL" x="208"/></g><g id="k68-5"><use href="#bL" x="260"/></g><g id="k68-6"><use href="#bL" x="312"/></g><g id="k68-7"><use href="#gL" x="364"/></g><g id="k68-8"><use href="#bL" x="416"/></g></g>
<g id="row69" transform="translate(0 3588)"><g id="k69-1"><use href="#bR" x="52"/></g><g id="k69-2"><use href="#bR" x="104"/></g><g id="k69-3"><use href="#bR" x="156"/></g><g id="k69-4"><use href="#bR" x="208"/></g><g id="k69-5"><use href="#bR" x="260"/></g><g id="k69-6"><use href="#bR" x="312"/></g><g id="k69-7"><use href="#bR" x="364"/></g><g id="k69-8"><use href="#bR" x="416"/></g></g>
<g id="row70" transform="translate(0 3640)"><g id="k70-1"><use href="#bL" x="52"/></g><g id="k70-2"><use href="#bL" x="104"/></g><g id="k70-3"><use href="#gL" x="156"/></g><g id="k70-4"><use href="#bL" x="208"/></g><g id="k70-5"><use href="#bL" x="260"/></g><g id="k70-6"><use href="#bL" x="312"/></g><g id="k70-7"><use href="#bL" x="364"/></g><g id="k70-8"><use href="#bL" x="416"/></g></g>
<g id="row71" transform="translate(0 3692)"><g id="k71-1"><use href="#bR" x="52"/></g><g id="k71-2"><use href="#bR" x="104"/></g><g id="k71-3"><use href="#bR" x="156"/></g><g id="k71-4"><use href="#bR" x="208"/></g><g id="k71-5"><use href="#bR" x="260"/></g><g id="k71-6"><use href="#gR" x="312"/></g><g id="k71-7"><use href="#bR" x="364"/></g><g id="k71-8"><use href="#bR" x="416"/></g></g>
<g id="row72" transform="translate(0 3744)"><g id="k72-1"><use href="#bL" x="52"/></g><g id="k72-2"><use href="#bL" x="104"/></g><g id="k72-3"><use href="#bL" x="156"/></g><g id="k72-4"><use href="#bL" x="208"/></g><g id="k72-5"><use href="#gL" x="260"/></g><g id="k72-6"><use href="#bL" x="312"/></g><g id="k72-7"><use href="#gL" x="364"/></g><g id="k72-8"><use href="#bL" x="416"/></g></g>
<g id="row73" transform="translate(0 3796)"><g id="k73-1"><use href="#bR" x="52"/></g><g id="k73-2"><use href="#bR" x="104"/></g><g id="k73-3"><use href="#bR" x="156"/></g><g id="k73-4"><use href="#bR" x="208"/></g><g id="k73-5"><use href="#bR" x="260"/></g><g id="k73-6"><use href="#gR" x="312"/></g><g id="k73-7"><use href="#bR" x="364"/></g><g id="k73-8"><use href="#bR" x="416"/></g></g>
<g id="row74" transform="translate(0 3848)"><g id="k74-1"><use href="#bL" x="52"/></g><g id="k74-2"><use href="#bL" x="104"/></g><g id="k74-3"><use href="#bL" x="156"/></g><g id="k74-4"><use href="#bL" x="208"/></g><g id="k74-5"><use href="#bL" x="260"/></g><g id="k74-6"><use href="#bL" x="312"/></g><g id="k74-7"><use href="#bL" x="364"/></g><g id="k74-8"><use href="#bL" x="416"/></g></g>
</g>
</g>
<text id="watermark" class="wm" x="266" y="1965" textLength="154" lengthAdjust="spacingAndGlyphs">BRACELETBOOK.COM</text>
</svg>
